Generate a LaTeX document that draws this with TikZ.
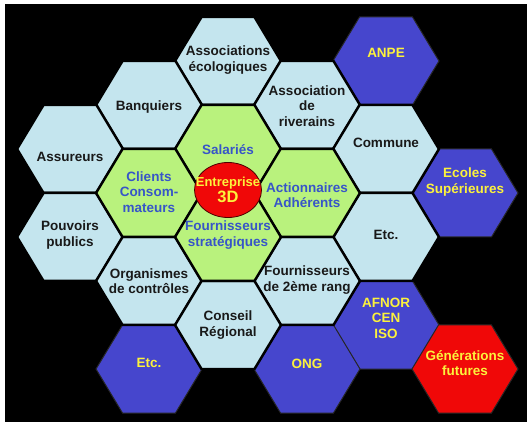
\documentclass[tikz,border=0pt]{standalone}
\usepackage{fontspec}
\setmainfont{Liberation Sans}
\usepackage{tikz}
\usetikzlibrary{shapes}
\definecolor{eau}{RGB}{196,229,238}
\definecolor{vert}{RGB}{185,242,125}
\definecolor{bleu}{RGB}{70,70,205}
\definecolor{rouge}{RGB}{240,8,8}
\definecolor{jaune}{RGB}{252,242,60}
\definecolor{bleutxt}{RGB}{55,85,200}
\newcommand*{\hexa}[6]{%
 \draw[#4] (#2,#3) +(-53,0) -- +(-26.5,-44) -- +(26.5,-44) -- +(53,0) -- +(26.5,44) -- +(-26.5,44) -- cycle;
 \node[#4 txt] (#1) at (#2,#5) {#6};}

\begin{document}
\begin{tikzpicture}[x=1pt,y=-1pt,
 every node/.style={font=\fontsize{13.5}{15.5}\selectfont\bfseries, align=center, inner sep=0pt},
 eau/.style={fill=eau, draw=black, line width=2.5pt, line join=round},
 vert/.style={fill=vert, draw=black, line width=2.5pt, line join=round},
 bleu/.style={fill=bleu, draw=black!85, line width=1pt},
 rouge/.style={fill=rouge, draw=black!85, line width=1pt},
 eau txt/.style={text=black!90},
 vert txt/.style={text=bleutxt},
 bleu txt/.style={text=jaune},
 rouge txt/.style={text=jaune}]
 \useasboundingbox (0,0) rectangle (527,427);
 \fill[black] (5,4) rectangle (527,422);

 % outer ring, coloured
 \hexa{anp}{386}{61}{bleu}{53}{ANPE}
 \hexa{eol}{465}{193}{bleu}{182}{Ecoles\\Supérieures}
 \hexa{afn}{386}{325}{bleu}{318}{AFNOR\\CEN\\ISO}
 \hexa{etb}{149}{369}{bleu}{363}{Etc.}
 \hexa{ong}{307}{369}{bleu}{364}{ONG}
 \hexa{gen}{465}{369}{rouge}{363}{Générations\\futures}

 % middle ring
 \hexa{eco}{228}{61}{eau}{60}{Associations\\écologiques}
 \hexa{ban}{149}{105}{eau}{107}{Banquiers}
 \hexa{riv}{307}{105}{eau}{106}{Association\\de\\riverains}
 \hexa{com}{386}{149}{eau}{143}{Commune}
 \hexa{asu}{70}{149}{eau}{157}{Assureurs}
 \hexa{pou}{70}{237}{eau}{235}{Pouvoirs\\publics}
 \hexa{etl}{386}{237}{eau}{235}{Etc.}
 \hexa{org}{149}{281}{eau}{281}{Organismes\\de contrôles}
 \hexa{fo2}{307}{281}{eau}{280}{Fournisseurs\\de 2ème rang}
 \hexa{con}{228}{325}{eau}{325}{Conseil\\Régional}

 % core
 \hexa{sal}{228}{149}{vert}{150}{Salariés}
 \hexa{cli}{149}{193}{vert}{192}{Clients\\Consom-\\mateurs}
 \hexa{act}{307}{193}{vert}{195}{Actionnaires\\Adhérents}
 \hexa{fos}{228}{237}{vert}{235}{Fournisseurs\\stratégiques}

 \node[ellipse, fill=rouge, draw=black!70!red, line width=0.8pt, minimum width=67pt, minimum height=55pt] (ent) at (228,190) {};
 \node[text=jaune, font=\fontsize{13}{16}\selectfont\bfseries] (ent-t) at (ent) {Entreprise\\{\fontsize{16.5}{16}\selectfont 3D}};
\end{tikzpicture}
\end{document}
